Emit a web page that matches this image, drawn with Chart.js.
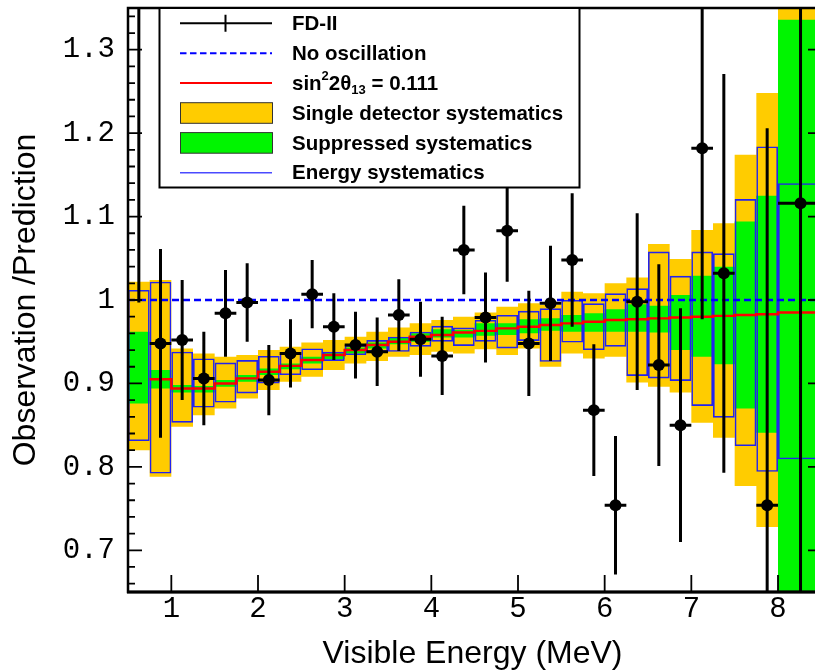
<!DOCTYPE html>
<html>
<head>
<meta charset="utf-8">
<script src="https://cdn.jsdelivr.net/npm/chart.js@4.4.1/dist/chart.umd.min.js"></script>
<style>
    html, body { margin: 0; padding: 0; background: #fff; overflow: hidden; }
</style>
</head>
<body>
<canvas id="ratioChart" width="830" height="672"></canvas>
<script>
// bin edges (MeV): 0.25 MeV bins up to 8, then one wide last bin
const binEdges = [0.5, 0.75, 1.0, 1.25, 1.5, 1.75, 2.0, 2.25, 2.5, 2.75, 3.0, 3.25, 3.5, 3.75, 4.0, 4.25,
                  4.5, 4.75, 5.0, 5.25, 5.5, 5.75, 6.0, 6.25, 6.5, 6.75, 7.0, 7.25, 7.5, 7.75, 8.0, 8.5];

// FD-II data points
const dataX = [0.625, 0.875, 1.125, 1.375, 1.625, 1.875, 2.125, 2.375, 2.625, 2.875, 3.125, 3.375, 3.625, 3.875, 4.125, 4.375,
               4.625, 4.875, 5.125, 5.375, 5.625, 5.875, 6.125, 6.375, 6.625, 6.875, 7.125, 7.375, 7.625, 7.875, 8.26];
const dataY = [1.500, 0.948, 0.952, 0.906, 0.984, 0.997, 0.904, 0.936, 1.007, 0.968, 0.946, 0.938, 0.982, 0.953, 0.933, 1.060,
               0.979, 1.083, 0.948, 0.996, 1.048, 0.868, 0.754, 0.998, 0.922, 0.850, 1.182, 1.032, null, 0.754, 1.116];
const dataErr = [0.503, 0.113, 0.072, 0.056, 0.052, 0.047, 0.042, 0.041, 0.041, 0.040, 0.040, 0.041, 0.043, 0.045, 0.047, 0.053,
                 0.054, 0.061, 0.063, 0.069, 0.080, 0.079, 0.083, 0.106, 0.121, 0.140, 0.205, 0.239, null, 0.452, 0.600];

// sin^2 2theta13 = 0.111 prediction (per bin)
const bestFit = [null, 0.905, 0.894, 0.894, 0.900, 0.906, 0.914, 0.921, 0.928, 0.934, 0.940, 0.946, 0.950, 0.956, 0.958, 0.961,
                 0.963, 0.966, 0.968, 0.970, 0.972, 0.974, 0.976, 0.977, 0.978, 0.979, 0.980, 0.981, 0.982, 0.983, 0.985];

// single detector systematics band
const singleLo = [0.820, 0.788, 0.848, 0.862, 0.870, 0.882, 0.892, 0.902, 0.908, 0.916, 0.924, 0.927, 0.932, 0.934, 0.938, 0.936,
                  0.941, 0.934, 0.942, 0.920, 0.936, 0.930, 0.932, 0.901, 0.896, 0.889, 0.853, 0.835, 0.777, 0.728, 0.550];
const singleHi = [1.022, 1.024, 0.942, 0.936, 0.932, 0.934, 0.940, 0.944, 0.949, 0.952, 0.956, 0.962, 0.967, 0.972, 0.976, 0.980,
                  0.985, 0.992, 0.996, 0.994, 1.010, 1.008, 1.020, 1.027, 1.067, 1.049, 1.084, 1.092, 1.174, 1.248, 1.400];

// suppressed systematics band
const suppLo = [0.876, 0.894, 0.889, 0.889, 0.896, 0.902, 0.910, 0.917, 0.924, 0.929, 0.936, 0.942, 0.947, 0.950, 0.955, 0.955,
                0.957, 0.958, 0.960, 0.963, 0.962, 0.962, 0.962, 0.962, 0.961, 0.940, 0.932, 0.923, 0.870, 0.841, 0.500];
const suppHi = [0.962, 0.916, 0.898, 0.897, 0.904, 0.910, 0.918, 0.924, 0.932, 0.937, 0.943, 0.949, 0.955, 0.960, 0.965, 0.964,
                0.972, 0.972, 0.977, 0.978, 0.982, 0.984, 0.989, 0.995, 0.993, 1.006, 1.029, 1.040, 1.094, 1.125, 1.336];

// energy systematics boxes
const energyLo = [0.831, 0.792, 0.853, 0.871, 0.877, 0.888, 0.900, 0.910, 0.916, 0.927, 0.934, 0.938, 0.938, 0.944, 0.950, 0.945,
                  0.950, 0.942, 0.951, 0.926, 0.949, 0.940, 0.944, 0.909, 0.906, 0.903, 0.873, 0.859, 0.825, 0.794, 0.809];
const energyHi = [1.012, 1.022, 0.938, 0.930, 0.925, 0.928, 0.933, 0.936, 0.942, 0.938, 0.946, 0.952, 0.956, 0.962, 0.969, 0.967,
                  0.976, 0.982, 0.987, 0.990, 1.000, 0.996, 1.008, 1.014, 1.058, 1.029, 1.058, 1.056, 1.121, 1.184, 1.140];

const noOscillation = [1, 1];

const xTickValues = [1, 2, 3, 4, 5, 6, 7, 8];
const yTickValues = [0.7, 0.8, 0.9, 1.0, 1.1, 1.2, 1.3];
const yTickLabels = ['0.7', '0.8', '0.9', '1', '1.1', '1.2', '1.3'];

const xMin = 0.5, xMax = 8.45;
const yMin = 0.65, yMax = 1.35;

const legendLabels = ['FD-II', 'No oscillation', 'sin22θ13 = 0.111',
                      'Single detector systematics', 'Suppressed systematics', 'Energy systematics'];

const ORANGE = '#ffcc00';
const GREEN = '#00f500';
const BOX_BLUE = '#2222ee';

function stepPoints(values) {
    const points = values.map((v, i) => ({ x: binEdges[i], y: v }));
    points.push({ x: binEdges[binEdges.length - 1], y: values[values.length - 1] });
    return points;
}

function verticalErrorPoints() {
    const points = [];
    dataY.forEach((v, i) => {
        if (v === null) return;
        points.push({ x: dataX[i], y: v - dataErr[i] });
        points.push({ x: dataX[i], y: v + dataErr[i] });
        points.push({ x: dataX[i], y: null });
    });
    return points;
}

function horizontalErrorPoints() {
    const points = [];
    dataY.forEach((v, i) => {
        if (v === null) return;
        points.push({ x: binEdges[i], y: v });
        points.push({ x: binEdges[i + 1], y: v });
        points.push({ x: binEdges[i + 1], y: null });
    });
    return points;
}

// one bar per 0.25 MeV slice, wide bins are split and their inner edges hidden
function energyBoxes() {
    const boxes = [];
    energyLo.forEach((lo, i) => {
        const left = binEdges[i], right = binEdges[i + 1];
        for (let x = left; x < right - 1e-9; x += 0.25) {
            boxes.push({
                x: x + 0.125,
                y: [lo, energyHi[i]],
                first: x === left,
                last: x + 0.25 >= right - 1e-9
            });
        }
    });
    return boxes;
}

const bandLine = {
    type: 'line',
    stepped: true,
    pointRadius: 0,
    borderColor: 'rgba(0,0,0,0)',
    borderWidth: 1,
    clip: 0
};

const frameAndLegend = {
    id: 'frameAndLegend',
    afterDatasetsDraw(chart) {
        const { ctx, chartArea: area, scales: { x, y } } = chart;
        ctx.save();
        ctx.strokeStyle = '#000';

        // inward ticks
        ctx.lineWidth = 1.8;
        ctx.beginPath();
        for (let i = 33; i <= 67; i++) {
            const py = y.getPixelForValue(i / 50);
            const len = i % 5 === 0 ? 14 : 7;
            ctx.moveTo(area.left, py);
            ctx.lineTo(area.left + len, py);
        }
        yTickValues.forEach(v => {
            const py = y.getPixelForValue(v);
            ctx.moveTo(area.right, py);
            ctx.lineTo(area.right - 9, py);
        });
        xTickValues.forEach(v => {
            const px = x.getPixelForValue(v);
            ctx.moveTo(px, area.bottom);
            ctx.lineTo(px, area.bottom - 17);
        });
        ctx.stroke();

        // frame
        ctx.lineWidth = 2.5;
        ctx.strokeRect(area.left, area.top, area.right - area.left, area.bottom - area.top);
        ctx.lineWidth = 3;
        ctx.beginPath();
        ctx.moveTo(area.left - 1, area.bottom);
        ctx.lineTo(area.right, area.bottom);
        ctx.stroke();

        // legend box
        const bx = 159.5, by = area.top, bw = 420, bh = 179.5;
        ctx.fillStyle = '#fff';
        ctx.fillRect(bx, by, bw, bh);
        ctx.lineWidth = 2;
        ctx.strokeRect(bx, by, bw, bh);

        const symL = 180, symR = 272, textX = 292;
        const rowY = i => 23.3 + i * 29.9;

        // FD-II
        let ry = rowY(0);
        ctx.lineWidth = 2;
        ctx.beginPath();
        ctx.moveTo(symL, ry); ctx.lineTo(symR, ry);
        ctx.moveTo(225.5, ry - 8.5); ctx.lineTo(225.5, ry + 8.5);
        ctx.stroke();

        // no oscillation
        ry = rowY(1);
        ctx.strokeStyle = '#0000ff';
        ctx.setLineDash([6.5, 3.5]);
        ctx.beginPath();
        ctx.moveTo(symL, ry); ctx.lineTo(symR, ry);
        ctx.stroke();
        ctx.setLineDash([]);

        // best fit
        ry = rowY(2);
        ctx.strokeStyle = '#ff0000';
        ctx.beginPath();
        ctx.moveTo(symL, ry); ctx.lineTo(symR, ry);
        ctx.stroke();

        // bands
        [[3, ORANGE], [4, GREEN]].forEach(([row, color]) => {
            const cy = rowY(row);
            ctx.fillStyle = color;
            ctx.fillRect(symL, cy - 10.3, symR - symL, 20.6);
            ctx.strokeStyle = '#333';
            ctx.lineWidth = 1;
            ctx.strokeRect(symL + 0.5, cy - 10.3, symR - symL, 20.6);
        });

        // energy systematics
        ry = rowY(5);
        ctx.strokeStyle = '#4a4aff';
        ctx.lineWidth = 1.5;
        ctx.beginPath();
        ctx.moveTo(symL, ry); ctx.lineTo(symR, ry);
        ctx.stroke();

        // texts
        const bold = size => `bold ${size}px "Liberation Sans", Arial, sans-serif`;
        ctx.fillStyle = '#000';
        ctx.textBaseline = 'middle';
        ctx.textAlign = 'left';
        legendLabels.forEach((label, i) => {
            if (i === 2) return;
            ctx.font = bold(20.5);
            ctx.fillText(label, textX, rowY(i) + 1);
        });

        // sin^2 2theta_13 = 0.111
        ry = rowY(2) + 1;
        let tx = textX;
        const parts = [
            ['sin', 20.5, 0], ['2', 13, -8], ['2θ', 20.5, 0], ['13', 13, 6], [' = 0.111', 20.5, 0]
        ];
        parts.forEach(([txt, size, dy]) => {
            ctx.font = bold(size);
            ctx.fillText(txt, tx, ry + dy);
            tx += ctx.measureText(txt).width;
        });

        ctx.restore();
    }
};

const ctx = document.getElementById('ratioChart').getContext('2d');

new Chart(ctx, {
    type: 'line',
    data: {
        datasets: [
            Object.assign({}, bandLine, { data: stepPoints(singleHi), fill: false, order: 20 }),
            Object.assign({}, bandLine, { data: stepPoints(singleLo), fill: '-1', backgroundColor: ORANGE, order: 19 }),
            Object.assign({}, bandLine, { data: stepPoints(suppHi), fill: false, order: 18 }),
            Object.assign({}, bandLine, { data: stepPoints(suppLo), fill: '-1', backgroundColor: GREEN, order: 17 }),
            {
                type: 'bar',
                data: energyBoxes(),
                backgroundColor: 'rgba(0,0,0,0)',
                borderColor: BOX_BLUE,
                borderSkipped: false,
                borderWidth: (c) => {
                    const r = c.raw || {};
                    return { top: 1.6, bottom: 1.6, left: r.first ? 1.6 : 0, right: r.last ? 1.6 : 0 };
                },
                inflateAmount: 0,
                barPercentage: 1,
                categoryPercentage: 1,
                grouped: false,
                order: 16
            },
            {
                type: 'line',
                data: stepPoints(bestFit),
                stepped: true,
                borderColor: '#ff0000',
                borderWidth: 2.4,
                pointRadius: 0,
                fill: false,
                order: 15
            },
            {
                type: 'line',
                data: [{ x: xMin, y: noOscillation[0] }, { x: xMax, y: noOscillation[1] }],
                borderColor: '#0000ff',
                borderWidth: 2.4,
                borderDash: [7, 4],
                pointRadius: 0,
                fill: false,
                order: 14
            },
            {
                type: 'line',
                data: horizontalErrorPoints(),
                borderColor: '#000',
                borderWidth: 3,
                pointRadius: 0,
                spanGaps: false,
                fill: false,
                clip: 0,
                order: 13
            },
            {
                type: 'line',
                data: verticalErrorPoints(),
                borderColor: '#000',
                borderWidth: 3,
                pointRadius: 0,
                spanGaps: false,
                fill: false,
                clip: 0,
                order: 12
            },
            {
                type: 'scatter',
                data: dataX.map((x, i) => ({ x: x, y: dataY[i] })).filter(p => p.y !== null),
                backgroundColor: '#000',
                borderColor: '#000',
                borderWidth: 0,
                pointRadius: 6,
                showLine: false,
                order: 11
            }
        ]
    },
    options: {
        responsive: false,
        animation: false,
        events: [],
        layout: { padding: { top: 8, right: 13, left: 0, bottom: 0 } },
        plugins: {
            legend: { display: false },
            tooltip: { enabled: false }
        },
        scales: {
            x: {
                type: 'linear',
                min: xMin,
                max: xMax,
                offset: false,
                grid: { display: false, drawTicks: false },
                border: { display: false },
                afterBuildTicks: (scale) => { scale.ticks = xTickValues.map(v => ({ value: v })); },
                afterFit: (scale) => {
                    scale.height = 80;
                    scale.paddingLeft = 0;
                    scale.paddingRight = 0;
                },
                ticks: {
                    autoSkip: false,
                    maxRotation: 0,
                    padding: 0,
                    color: '#000',
                    font: { family: '"Liberation Mono", monospace', size: 29 },
                    callback: (value) => String(value)
                },
                title: {
                    display: true,
                    text: 'Visible Energy (MeV)',
                    color: '#000',
                    font: { family: '"Liberation Sans", Arial, sans-serif', size: 32, lineHeight: 1 },
                    padding: { top: 0, bottom: 2 }
                }
            },
            y: {
                type: 'linear',
                min: yMin,
                max: yMax,
                grid: { display: false, drawTicks: false },
                border: { display: false },
                afterBuildTicks: (scale) => { scale.ticks = yTickValues.map(v => ({ value: v })); },
                afterFit: (scale) => {
                    scale.width = 128;
                    scale.paddingTop = 0;
                    scale.paddingBottom = 0;
                },
                ticks: {
                    autoSkip: false,
                    padding: 13,
                    color: '#000',
                    font: { family: '"Liberation Mono", monospace', size: 29 },
                    callback: (value, index) => yTickLabels[index]
                },
                title: {
                    display: true,
                    text: 'Observation /Prediction',
                    color: '#000',
                    font: { family: '"Liberation Sans", Arial, sans-serif', size: 32, lineHeight: 1 },
                    padding: { top: 10, bottom: 0 }
                }
            }
        }
    },
    plugins: [frameAndLegend]
});
</script>
</body>
</html>
